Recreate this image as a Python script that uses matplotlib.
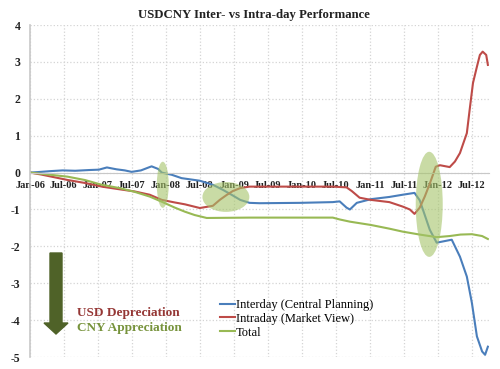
import pandas as pd
import matplotlib
matplotlib.use("Agg")
import matplotlib.pyplot as plt
import matplotlib.dates as mdates
from matplotlib.patches import Ellipse, FancyArrow

plt.rcParams['font.family'] = ['Liberation Serif', 'DejaVu Serif']
plt.rcParams['axes.unicode_minus'] = False

# Interday (central planning)
inter_dates = ['2006-01-01', '2006-02-28', '2006-04-20', '2006-06-25', '2006-09-01', '2006-11-15',
               '2007-01-06', '2007-02-18', '2007-04-10', '2007-05-25', '2007-07-01', '2007-08-20',
               '2007-09-25', '2007-10-16', '2007-11-20', '2007-12-10', '2008-02-02', '2008-03-25',
               '2008-07-01', '2008-09-09', '2008-11-03', '2008-12-25', '2009-02-03', '2009-03-25',
               '2009-05-18', '2009-12-20', '2010-06-15', '2010-07-22', '2010-08-28', '2010-09-15',
               '2010-10-22', '2011-01-06', '2011-04-15', '2011-06-25', '2011-08-28', '2011-09-25',
               '2011-10-22', '2011-11-18', '2011-12-25', '2012-03-04', '2012-03-15', '2012-04-28',
               '2012-06-04', '2012-07-01', '2012-07-28', '2012-08-25', '2012-09-10', '2012-09-25']
inter_vals = [0.00, 0.02, 0.04, 0.06, 0.05, 0.07,
              0.08, 0.14, 0.09, 0.06, 0.02, 0.06,
              0.13, 0.17, 0.10, 0.00, -0.06, -0.15,
              -0.22, -0.33, -0.47, -0.62, -0.74, -0.82,
              -0.83, -0.82, -0.80, -0.78, -0.95, -1.00,
              -0.82, -0.72, -0.66, -0.60, -0.55, -0.75,
              -1.15, -1.55, -1.90, -1.83, -1.82, -2.28,
              -2.82, -3.53, -4.44, -4.85, -4.94, -4.72]

# Intraday (market view)
intra_dates = ['2006-01-01', '2006-02-28', '2006-07-22', '2006-10-22', '2007-01-22', '2007-04-10',
               '2007-07-16', '2007-10-06', '2007-12-10', '2008-02-18', '2008-04-12', '2008-07-01',
               '2008-09-09', '2008-10-16', '2008-11-24', '2008-12-25', '2009-02-03', '2009-03-25',
               '2010-06-15', '2010-08-28', '2010-09-25', '2010-11-06', '2011-01-06', '2011-04-15',
               '2011-06-25', '2011-08-03', '2011-08-28', '2011-09-25', '2011-10-22', '2011-11-18',
               '2011-12-20', '2012-01-12', '2012-03-04', '2012-04-01', '2012-04-28', '2012-05-13',
               '2012-06-04', '2012-06-19', '2012-07-07', '2012-07-28', '2012-08-13', '2012-08-28',
               '2012-09-16', '2012-09-25']
intra_vals = [0.00, -0.05, -0.20, -0.28, -0.38, -0.44,
              -0.51, -0.60, -0.74, -0.81, -0.86, -0.96,
              -0.90, -0.74, -0.60, -0.50, -0.42, -0.38,
              -0.38, -0.40, -0.50, -0.68, -0.74, -0.80,
              -0.92, -1.00, -1.12, -0.95, -0.65, -0.30,
              0.16, 0.20, 0.15, 0.30, 0.53, 0.75,
              1.07, 1.70, 2.43, 2.87, 3.19, 3.28,
              3.19, 2.92]

# Total
total_dates = ['2006-01-01', '2006-02-28', '2006-07-22', '2006-10-22', '2007-01-22', '2007-04-27',
               '2007-07-16', '2007-10-06', '2007-12-10', '2008-02-18', '2008-04-12', '2008-06-03',
               '2008-08-07', '2009-03-25', '2010-06-15', '2010-07-22', '2010-09-15', '2011-01-06',
               '2011-04-15', '2011-06-25', '2011-09-25', '2011-12-25', '2012-03-04', '2012-05-01',
               '2012-07-01', '2012-08-25', '2012-09-25']
total_vals = [0.00, -0.03, -0.11, -0.20, -0.33, -0.42,
              -0.52, -0.65, -0.79, -0.95, -1.06, -1.15,
              -1.23, -1.22, -1.22, -1.27, -1.33, -1.42,
              -1.52, -1.60, -1.68, -1.75, -1.72, -1.68,
              -1.67, -1.72, -1.80]

# highlighted areas: centre date, centre value, width (days), height
hl_dates = ['2007-12-15', '2008-11-18', '2011-11-15']
hl_vals = [-0.33, -0.66, -0.86]
hl_widths = [64, 252, 145]
hl_heights = [1.25, 0.81, 2.85]

fig = plt.figure(figsize=(5, 3.69), dpi=100)
ax = fig.add_axes([0.06, 0.0325, 0.918, 0.8995])

ax.plot(pd.to_datetime(inter_dates), inter_vals, color='#4a7ebb', lw=1.5, label='Interday (Central Planning)')
ax.plot(pd.to_datetime(intra_dates), intra_vals, color='#be4b48', lw=1.5, label='Intraday (Market View)')
ax.plot(pd.to_datetime(total_dates), total_vals, color='#98b954', lw=1.5, label='Total')

for d, v, w, h in zip(hl_dates, hl_vals, hl_widths, hl_heights):
    c = mdates.date2num(pd.Timestamp(d))
    ax.add_patch(Ellipse((c, v), w, h, facecolor='#a5c46a', alpha=0.6, edgecolor='none', zorder=3))

ax.set_ylim(-5, 4)
ax.set_xlim(pd.Timestamp('2006-01-01'), pd.Timestamp('2012-10-01'))
ax.set_yticks(range(-5, 5))
ax.xaxis.set_major_locator(mdates.MonthLocator(bymonth=[1, 7]))
ax.xaxis.set_major_formatter(mdates.DateFormatter('%b-%y'))

ax.spines['bottom'].set_position(('data', 0))
ax.spines['bottom'].set_color('#c8c8c8')
ax.spines['left'].set_color('#c8c8c8')
ax.spines['left'].set_linewidth(1.2)
ax.spines['top'].set_visible(False)
ax.spines['right'].set_visible(False)
ax.grid(True, color='#d4d4d4', ls=':', lw=0.9)
ax.tick_params(axis='x', length=0, pad=6, labelsize=7.5)
ax.tick_params(axis='y', length=0, pad=7, labelsize=8.5)
for lab in ax.get_xticklabels() + ax.get_yticklabels():
    lab.set_fontweight('bold')
    lab.set_color('#222222')

fig.text(0.507, 0.958, 'USDCNY Inter- vs Intra-day Performance', ha='center', va='center',
         fontsize=9.2, fontweight='bold', color='#222222')

arrow = FancyArrow(0.56, 1.16, 0, -0.81, width=0.12, head_width=0.24, head_length=0.11,
                   length_includes_head=True, transform=fig.dpi_scale_trans,
                   color='#4f6228', edgecolor='none')
fig.add_artist(arrow)
fig.text(0.154, 1 - 312.7 / 369, 'USD Depreciation', color='#953735', fontsize=9.5,
         fontweight='bold', va='center')
fig.text(0.154, 1 - 328 / 369, 'CNY Appreciation', color='#77933c', fontsize=9.5,
         fontweight='bold', va='center')

ax.legend(loc='upper left', bbox_to_anchor=(0.44, 0.19), bbox_transform=fig.transFigure,
          frameon=False, borderaxespad=0, borderpad=0, handlelength=1.2, handletextpad=0.1,
          labelspacing=0.15, fontsize=9)

fig.savefig('out.png', dpi=100)
